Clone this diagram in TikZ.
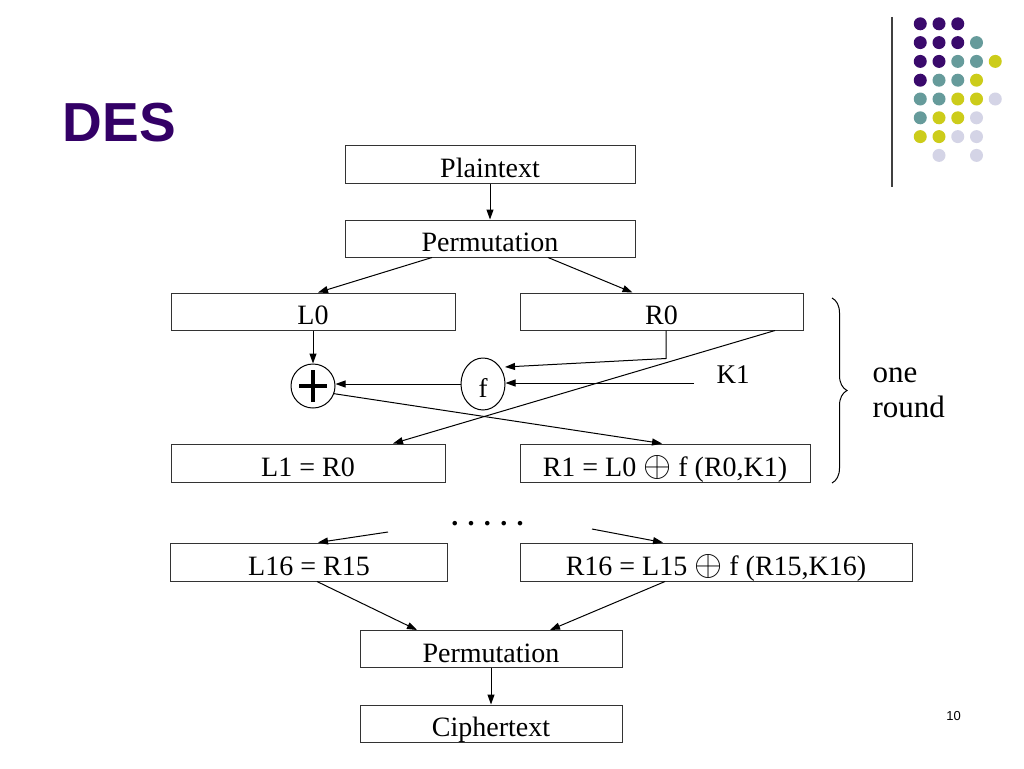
\documentclass[tikz,border=0pt]{standalone}
\usepackage{fontspec}
\setmainfont{Liberation Serif}
\newfontfamily\sansfont{Liberation Sans}
\usetikzlibrary{arrows.meta,calc,shapes.geometric,decorations.pathreplacing}
\definecolor{desPurple}{HTML}{330066}
\definecolor{dP}{HTML}{3A0A6C}
\definecolor{dT}{HTML}{669B9B}
\definecolor{dY}{HTML}{CCCC1A}
\definecolor{dL}{HTML}{D4D4E6}
\newcommand{\bigxor}{\scalebox{1.45}{$\oplus$}}
\begin{document}
\begin{tikzpicture}[x=1pt,y=1pt,
  box/.style={draw=black!80, line width=1pt, rectangle, inner sep=0pt,
    text height=26pt, text depth=0pt, font=\fontsize{28}{30}\selectfont},
  arr/.style={-{Triangle[length=10pt,width=7pt]}, line width=1pt},
  lbl/.style={font=\fontsize{28}{30}\selectfont, anchor=base}]
\fill[white] (0,0) rectangle (1024,-768);
\useasboundingbox (0,0) rectangle (1024,-768);

% title
\node[font=\sansfont\bfseries\fontsize{55}{60}\selectfont, text=desPurple, anchor=base] (title) at (119.5,-141) {DES};

% decoration: separator and dots
\draw[line width=1.2pt, black!75] (892,-17) -- (892,-187);
\foreach \c/\r/\k in {1/1/dP,2/1/dP,3/1/dP,
  1/2/dP,2/2/dP,3/2/dP,4/2/dT,
  1/3/dP,2/3/dP,3/3/dT,4/3/dT,5/3/dY,
  1/4/dP,2/4/dT,3/4/dT,4/4/dY,
  1/5/dT,2/5/dT,3/5/dY,4/5/dY,5/5/dL,
  1/6/dT,2/6/dY,3/6/dY,4/6/dL,
  1/7/dY,2/7/dY,3/7/dL,4/7/dL,
  2/8/dL,4/8/dL}
  \fill[\k] ({901.5+18.75*\c},{-5-18.8*\r}) circle (6.5);

% boxes
\node[box, minimum width=290pt, minimum height=38pt] (plain) at (490,-164) {Plaintext};
\node[box, minimum width=290pt, minimum height=37pt] (perm1) at (490,-238.5) {Permutation};
\node[box, minimum width=284pt, minimum height=37pt] (L0) at (313,-311.5) {L0};
\node[box, minimum width=283pt, minimum height=37pt] (R0) at (661.5,-311.5) {R0};
\node[box, minimum width=274pt, minimum height=38pt] (L1) at (308,-463) {L1 = R0};
\node[box, minimum width=290pt, minimum height=38pt] (R1) at (665,-463) {R1 = L0 \bigxor{} f (R0,K1)};
\node[box, minimum width=277pt, minimum height=38pt] (L16) at (309,-562) {L16 = R15};
\node[box, minimum width=392pt, minimum height=38pt] (R16) at (716,-562) {R16 = L15 \bigxor{} f (R15,K16)};
\node[box, minimum width=262pt, minimum height=37pt] (perm2) at (491,-649) {Permutation};
\node[box, minimum width=262pt, minimum height=37pt] (ciph) at (491,-723.5) {Ciphertext};

% round elements
\node[draw, ellipse, line width=1pt, minimum width=44pt, minimum height=52pt, inner sep=0pt,
  text height=26pt, text depth=0pt, font=\fontsize{27}{30}\selectfont] (f) at (483,-384) {f};
\node[draw, circle, line width=1pt, minimum size=44pt, inner sep=0pt,
  path picture={
    \draw[line width=4pt] ($(path picture bounding box.center)+(-14,0)$) -- ++(28,0);
    \draw[line width=4pt] ($(path picture bounding box.center)+(0,-16)$) -- ++(0,32);
  }] (xor) at (313,-386) {};

\node[font=\fontsize{27}{30}\selectfont, anchor=base] (k1) at (733,-383) {K1};
\coordinate (k1s) at (694,-383);

% connectors
\draw[arr] (plain) -- (perm1);
\draw[arr] ($(perm1.south)+(-58,0)$) -- ($(L0.north)+(5,0)$);
\draw[arr] ($(perm1.south)+(58,0)$) -- ($(R0.north)+(-29,0)$);
\draw[arr] (L0.south -| xor.north) -- (xor.north);
\draw[arr] ($(R0.south)+(4.5,0)$) -- ++(0,-28) -- ($(f.center)+(22,17)$);
\draw[arr] (f.west) -- (f.west -| xor.east);
\draw[arr] (k1s) -- (k1s -| f.east);
\draw[arr] ($(R0.south)+(113.5,0)$) -- ($(L1.north)+(85,0)$);
\draw[arr] (xor.-20) -- ($(R1.north)+(-3,0)$);

% brace
\draw[line width=1pt, decorate, decoration={brace, amplitude=15pt}] (832,-298) -- (832,-483);
\node[font=\fontsize{31}{35}\selectfont, anchor=base west] (one) at (869,-382) {one};
\node[font=\fontsize{31}{35}\selectfont, anchor=base west] (round) at (869,-417) {round};

% dots and continuation
\node[font=\bfseries\fontsize{28}{30}\selectfont, anchor=base] (dots) at (487.5,-525.5) {. . . . .};
\coordinate (dl) at (388,-532);
\coordinate (dr) at (592,-529);
\draw[arr] (dl) -- ($(L16.north)+(9,0)$);
\draw[arr] (dr) -- ($(R16.north)+(-53,0)$);
\draw[arr] ($(L16.south)+(8,0)$) -- ($(perm2.north)+(-74,0)$);
\draw[arr] ($(R16.south)+(-51,0)$) -- ($(perm2.north)+(59,0)$);
\draw[arr] (perm2) -- (ciph);

% page number
\node[font=\sansfont\fontsize{13}{15}\selectfont, anchor=base] (pg) at (953.5,-720) {10};
\end{tikzpicture}
\end{document}
